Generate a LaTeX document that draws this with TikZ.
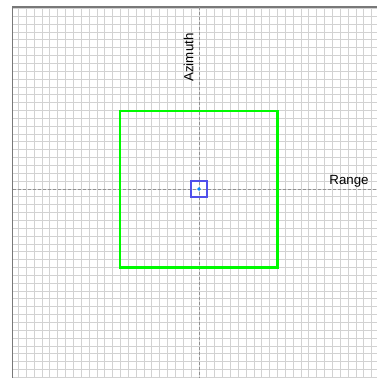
\documentclass[tikz,border=0pt]{standalone}
\usepackage{fontspec}
\setmainfont{Liberation Sans}
\definecolor{gridgray}{RGB}{210,210,210}
\definecolor{framegray}{RGB}{120,120,120}
\definecolor{axisgray}{RGB}{145,145,145}
\definecolor{boxgreen}{RGB}{0,250,0}
\definecolor{boxblue}{RGB}{80,80,235}
\definecolor{dotblue}{RGB}{0,140,255}
\tikzset{
  gridline/.style={draw=gridgray, line width=0.9pt},
  frameline/.style={draw=framegray, line width=1.4pt},
  axisline/.style={draw=axisgray, line width=1pt, dash pattern=on 3pt off 2pt},
  label/.style={font=\fontsize{13.3}{15}\selectfont, inner sep=0pt, text=black}
}
\begin{document}
\begin{tikzpicture}[x=1pt,y=-1pt]
\useasboundingbox (0,0) rectangle (377,378);
\fill[white] (0,0) rectangle (377,378);
% grid
\foreach \k in {-23,...,22} {
  \draw[gridline] ({199+\k*7.85},7) -- ({199+\k*7.85},378);
}
\foreach \k in {-23,...,24} {
  \draw[gridline] (12.5,{189+\k*7.85}) -- (377,{189+\k*7.85});
}
% frame (left and top)
\draw[frameline] (12.5,378) -- (12.5,7) -- (377,7);
% axes
\draw[axisline] (199,7) -- (199,378);
\draw[axisline] (12.5,189) -- (377,189);
% labels
\node[label, rotate=90] (az) at (188.5,57.5) {Azimuth};
\node[label] (rg) at (349,181.5) {Range};
% green square
\draw[draw=boxgreen, line width=2.2pt] (120,111) rectangle (277.5,267.5);
% blue square
\draw[draw=boxblue, line width=1.5pt] (191,181) rectangle (207,197);
\fill[dotblue] (199,189) circle (1.8);
\end{tikzpicture}
\end{document}
